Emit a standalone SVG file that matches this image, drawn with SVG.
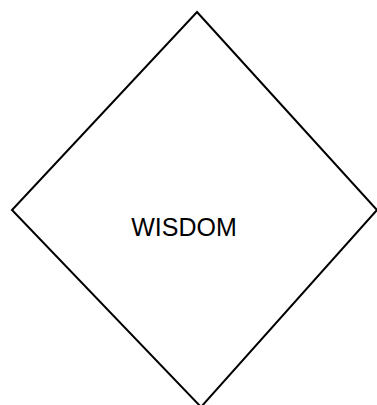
<svg xmlns="http://www.w3.org/2000/svg" width="377" height="405" viewBox="0 0 377 405">
<style>
.shape{fill:#fff;stroke:#000;stroke-width:2}
.label{font-family:"Liberation Sans",Arial,sans-serif;font-size:25px;fill:#000}
</style>
<rect width="377" height="405" fill="#fff"/>
<g id="connectors"></g>
<g id="wisdom">
<polygon class="shape" points="197,12 377,210 201,407 12,210"/>
<text class="label" x="184" y="236" text-anchor="middle">WISDOM</text>
</g>
</svg>
